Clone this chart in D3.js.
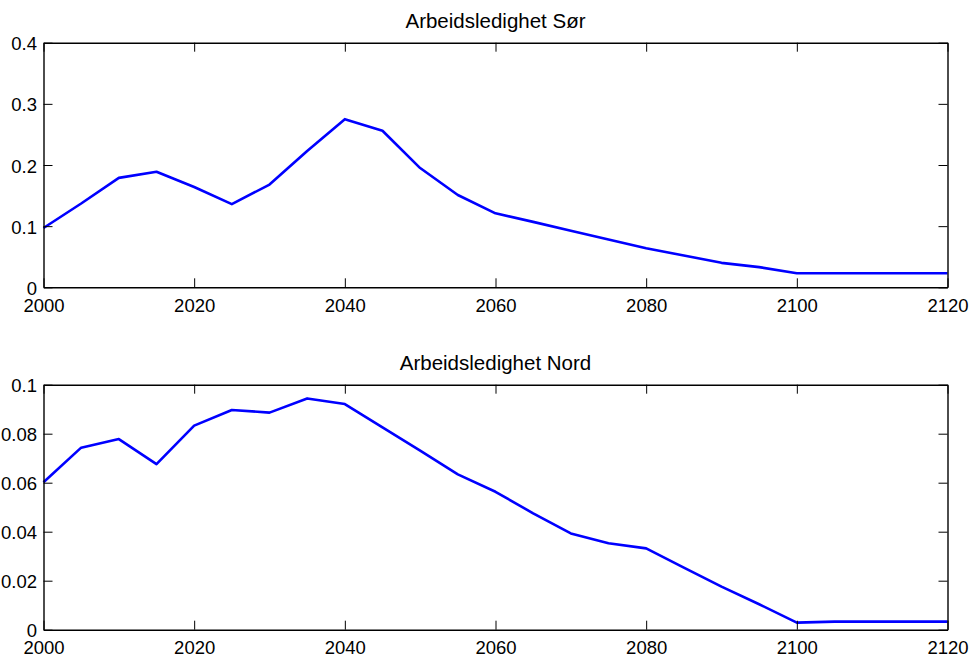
<!DOCTYPE html>
<html>
<head>
<meta charset="utf-8">
<script src="https://cdn.jsdelivr.net/npm/d3@7"></script>
<style>
  body { margin: 0; background: #fff; }
  svg { display: block; }
</style>
</head>
<body>
<svg id="chart" width="969" height="657"></svg>
<script>
// data, one value every 5 years
var years = [2000, 2005, 2010, 2015, 2020, 2025, 2030, 2035, 2040, 2045, 2050, 2055, 2060,
             2065, 2070, 2075, 2080, 2085, 2090, 2095, 2100, 2105, 2110, 2115, 2120];
var sorValues = [0.097, 0.137, 0.179, 0.189, 0.164, 0.136, 0.168, 0.223, 0.275, 0.256, 0.195, 0.151, 0.121,
                 0.107, 0.0925, 0.078, 0.064, 0.052, 0.040, 0.033, 0.023, 0.023, 0.023, 0.023, 0.023];
var nordValues = [0.0602, 0.0743, 0.0778, 0.0676, 0.0833, 0.0897, 0.0886, 0.0944, 0.0921, 0.0826, 0.0731, 0.0634, 0.0563,
                  0.0475, 0.0393, 0.0353, 0.0332, 0.0253, 0.0176, 0.0104, 0.0029, 0.0033, 0.0033, 0.0033, 0.0033];
var xTicks = [2000, 2020, 2040, 2060, 2080, 2100, 2120];
var sorTicks = [0, 0.1, 0.2, 0.3, 0.4];
var nordTicks = [0, 0.02, 0.04, 0.06, 0.08, 0.1];
var titles = ['Arbeidsledighet Sør', 'Arbeidsledighet Nord'];

var svg = d3.select('#chart');
var fontFamily = '"Liberation Sans", Arial, sans-serif';
var left = 43.5, right = 947.5;
var tickLen = 9;

function drawPanel(top, bottom, values, yTicks, yMax, title) {
    var xScale = d3.scaleLinear().domain([2000, 2120]).range([left, right]);
    var yScale = d3.scaleLinear().domain([0, yMax]).range([bottom, top]);

    // title
    svg.append('text')
        .attr('x', (left + right) / 2)
        .attr('y', top - 14.5)
        .attr('text-anchor', 'middle')
        .style('font-family', fontFamily)
        .style('font-size', '20.5px')
        .text(title);

    // line first, axes box drawn over it
    var line = d3.line()
        .x((d, i) => xScale(years[i]))
        .y(d => yScale(d));
    svg.append('path')
        .datum(values)
        .attr('fill', 'none')
        .attr('stroke', '#0000ff')
        .attr('stroke-width', 2.6)
        .attr('stroke-linejoin', 'round')
        .attr('d', line);

    var fmt = d3.format('~g');

    var xBottom = svg.append('g')
        .attr('transform', `translate(0,${bottom})`)
        .call(d3.axisBottom(xScale).tickValues(xTicks).tickFormat(d3.format('d'))
            .tickSizeInner(-tickLen).tickSizeOuter(0).tickPadding(11.5));
    var xTop = svg.append('g')
        .attr('transform', `translate(0,${top})`)
        .call(d3.axisTop(xScale).tickValues(xTicks).tickFormat('')
            .tickSizeInner(-tickLen).tickSizeOuter(0));
    var yLeft = svg.append('g')
        .attr('transform', `translate(${left},0)`)
        .call(d3.axisLeft(yScale).tickValues(yTicks).tickFormat(fmt)
            .tickSizeInner(-tickLen).tickSizeOuter(0).tickPadding(6.5));
    var yRight = svg.append('g')
        .attr('transform', `translate(${right},0)`)
        .call(d3.axisRight(yScale).tickValues(yTicks).tickFormat('')
            .tickSizeInner(-tickLen).tickSizeOuter(0));

    [xBottom, xTop, yLeft, yRight].forEach(ax => {
        ax.select('.domain').attr('stroke', '#000').attr('stroke-width', 1.4);
        ax.selectAll('.tick line').attr('stroke', '#000').attr('stroke-width', 1);
        ax.selectAll('.tick text')
            .attr('fill', '#000')
            .style('font-family', fontFamily)
            .style('font-size', '18.5px');
    });
    yLeft.selectAll('.tick text').attr('dy', '0.38em');
}

drawPanel(42.7, 287.3, sorValues, sorTicks, 0.4, titles[0]);
drawPanel(384.7, 629.7, nordValues, nordTicks, 0.1, titles[1]);
</script>
</body>
</html>
